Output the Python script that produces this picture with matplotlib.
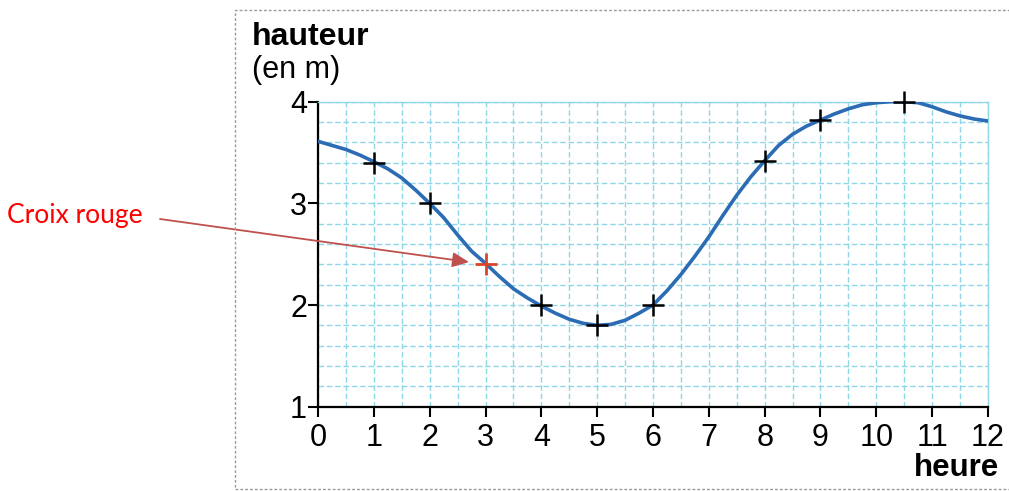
"""
Hauteur de la marée en fonction de l'heure, avec la croix rouge annotée.
"""

import matplotlib
matplotlib.use("Agg")
import matplotlib.pyplot as plt
from matplotlib.patches import Rectangle

# Courbe (tous les quarts d'heure)
curve_hours = [0, 0.25, 0.5, 0.75, 1, 1.25, 1.5, 1.75, 2, 2.25, 2.5, 2.75,
               3, 3.25, 3.5, 3.75, 4, 4.25, 4.5, 4.75, 5, 5.25, 5.5, 5.75,
               6, 6.25, 6.5, 6.75, 7, 7.25, 7.5, 7.75, 8, 8.25, 8.5, 8.75,
               9, 9.25, 9.5, 9.75, 10, 10.25, 10.5, 10.75, 11, 11.25, 11.5, 11.75, 12]
curve_heights = [3.61, 3.57, 3.53, 3.475, 3.41, 3.34, 3.25, 3.13, 3.0, 2.86, 2.69, 2.53,
                 2.41, 2.28, 2.16, 2.07, 1.99, 1.92, 1.86, 1.82, 1.80, 1.81, 1.85, 1.92,
                 2.0, 2.14, 2.30, 2.48, 2.67, 2.88, 3.08, 3.26, 3.42, 3.57, 3.68, 3.76,
                 3.82, 3.88, 3.93, 3.97, 3.99, 4.0, 4.0, 3.99, 3.95, 3.90, 3.86, 3.83, 3.81]

# Croix noires
mark_hours = [1, 2, 4, 5, 6, 8, 9, 10.5]
mark_heights = [3.4, 3.0, 2.0, 1.8, 2.0, 3.42, 3.82, 4.0]

# Croix rouge
red_hours = [3]
red_heights = [2.4]

x_ticks = list(range(0, 13))
y_ticks = [1, 2, 3, 4]

GRID = "#8fd6e6"
BLUE = "#2b6cb5"


def main():
    plt.rcParams['font.family'] = ['Liberation Sans', 'DejaVu Sans']
    fig = plt.figure(figsize=(10.09, 4.91), dpi=100)

    # cadre pointillé du manuel
    fig.add_artist(Rectangle((235 / 1009, 2 / 491), 1.0, 479 / 491,
                             transform=fig.transFigure, fill=False,
                             edgecolor="#9a9a9a", linestyle=(0, (2, 1.5)), lw=1))

    ax = fig.add_axes([318 / 1009, 84.3 / 491, 670 / 1009, 305 / 491])
    ax.set_xlim(0, 12)
    ax.set_ylim(1, 4)

    ax.set_xticks(x_ticks)
    ax.set_yticks(y_ticks)
    ax.set_xticks([h / 2 for h in range(25)], minor=True)
    ax.set_yticks([1 + k * 0.2 for k in range(16)], minor=True)
    ax.grid(True, which="both", color=GRID, linestyle=(0, (4, 2)), lw=1)
    ax.set_axisbelow(True)

    ax.tick_params(which="major", length=7, width=1.5, labelsize=22, color="black")
    ax.tick_params(axis="x", pad=5)
    ax.tick_params(axis="y", pad=1)
    ax.tick_params(which="minor", length=0)

    for side in ["top", "right"]:
        ax.spines[side].set_color(GRID)
        ax.spines[side].set_linewidth(1)
    for side in ["left", "bottom"]:
        ax.spines[side].set_linewidth(1.6)

    ax.plot(curve_hours, curve_heights, color=BLUE, lw=2.6,
            solid_joinstyle="round", solid_capstyle="round", zorder=3)
    ax.plot(mark_hours, mark_heights, "+", color="black", ms=16, mew=1.8,
            clip_on=False, zorder=4)
    ax.plot(red_hours, red_heights, "+", color="#d9452b", ms=16, mew=2.0,
            clip_on=False, zorder=4)

    fig.text(252 / 1009, 1 - 45 / 491, "hauteur", fontsize=23, fontweight="bold")
    fig.text(252 / 1009, 1 - 78 / 491, "(en m)", fontsize=22)
    fig.text(999 / 1009, 1 - 476 / 491, "heure", fontsize=22.5, fontweight="bold", ha="right")

    fig.text(7 / 1009, 1 - 216 / 491, "Croix rouge", color="#ff0000", fontsize=19,
             family=["Lato", "DejaVu Sans"], va="center")
    ax.annotate("", xy=(red_hours[0], red_heights[0]), xycoords="data",
                xytext=(160 / 1009, 1 - 219 / 491), textcoords="figure fraction",
                arrowprops=dict(arrowstyle="-|>,head_length=1.0,head_width=0.45",
                                color="#c0504d", lw=1.3, shrinkA=0, shrinkB=12),
                annotation_clip=False, zorder=5)

    fig.savefig("out.png", dpi=100)


if __name__ == '__main__':
    main()
